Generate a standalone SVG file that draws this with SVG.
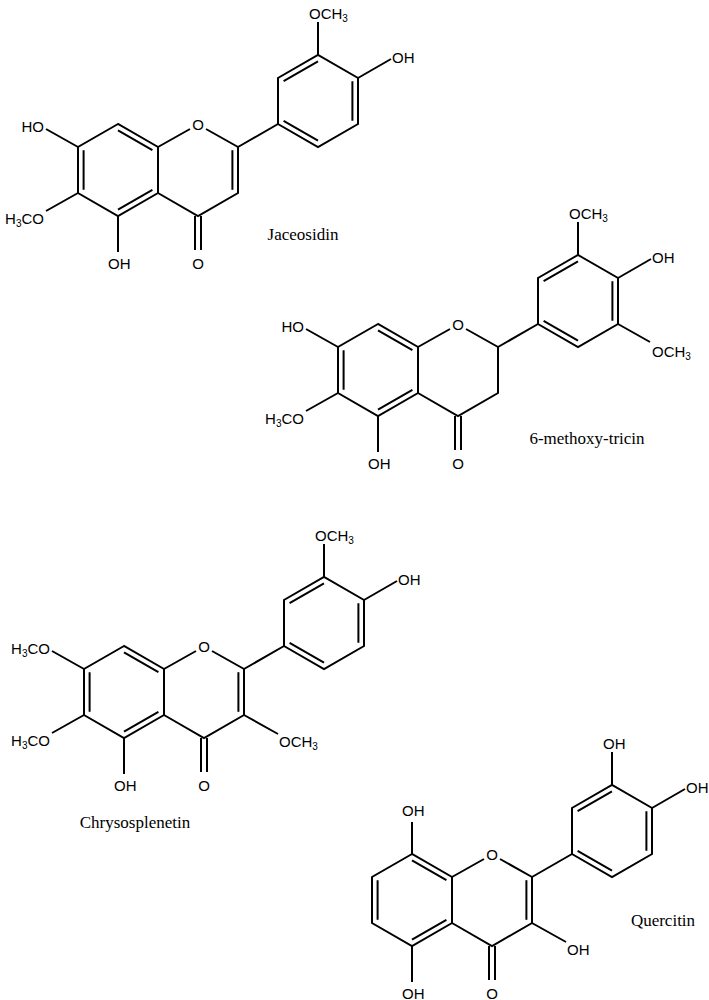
<svg xmlns="http://www.w3.org/2000/svg" xmlns:xlink="http://www.w3.org/1999/xlink" width="709" height="1000" viewBox="0 0 709 1000">
<style>
line,polyline,path{stroke:#000;stroke-width:2;fill:none;stroke-linecap:butt}
.a{font-family:"Liberation Sans",Arial,sans-serif;font-size:15px;fill:#000}
.s{font-size:10px}
.n{font-family:"Liberation Serif","Times New Roman",serif;font-size:17px;fill:#000;text-anchor:middle}
</style>
<defs>
<g id="core">
<path d="M118,124 L78,147 L78,193 L118,216 L158,193 L158,147 Z"/>
<path d="M118,130.4 L152.4,150.2 M83.6,150.2 L83.6,189.8 M118,209.6 L152.4,189.8"/>
<path d="M158,147 L190,129 M206,129 L238,147 L238,193 L198,216 L158,193"/>
<path d="M195,216 L195,250 M201,216 L201,250"/>
<path d="M238,147 L278,124"/>
<path d="M278,124 L278,78 L318,55 L358,78 L358,124 L318,147 Z"/>
<path d="M283.6,81.2 L318,61.4 M352.4,81.2 L352.4,120.8 M318,140.6 L283.6,120.8"/>
<path d="M358,78 L391,59"/>
<text class="a" x="198" y="130" text-anchor="middle">O</text>
<text class="a" x="198" y="269" text-anchor="middle">O</text>
<text class="a" x="392" y="63">OH</text>
</g>
</defs>
<g id="jaceosidin">
<use xlink:href="#core"/>
<path d="M232.4,150.2 L232.4,189.8"/>
<path d="M78,147 L46,129 M78,193 L46,211 M118,216 L118,252 M318,55 L318,22"/>
<text class="a" x="44" y="132" text-anchor="end">HO</text>
<text class="a" x="44" y="224" text-anchor="end">H<tspan class="s" dy="3">3</tspan><tspan dy="-3">CO</tspan></text>
<text class="a" x="108" y="269">OH</text>
<text class="a" x="309" y="19">OCH<tspan class="s" dy="3">3</tspan></text>
<text class="n" x="303" y="240">Jaceosidin</text>
</g>
<g id="methoxytricin" transform="translate(260,200)">
<use xlink:href="#core"/>
<path d="M78,147 L46,129 M78,193 L46,211 M118,216 L118,252 M318,55 L318,22 M358,124 L390,142"/>
<text class="a" x="44" y="132" text-anchor="end">HO</text>
<text class="a" x="44" y="224" text-anchor="end">H<tspan class="s" dy="3">3</tspan><tspan dy="-3">CO</tspan></text>
<text class="a" x="108" y="269">OH</text>
<text class="a" x="309" y="19">OCH<tspan class="s" dy="3">3</tspan></text>
<text class="a" x="392" y="157">OCH<tspan class="s" dy="3">3</tspan></text>
<text class="n" x="327" y="244">6-methoxy-tricin</text>
</g>
<g id="chrysosplenetin" transform="translate(6,522)">
<use xlink:href="#core"/>
<path d="M232.4,150.2 L232.4,189.8"/>
<path d="M78,147 L46,129 M78,193 L46,211 M118,216 L118,252 M318,55 L318,22 M238,193 L272,212"/>
<text class="a" x="44" y="132" text-anchor="end">H<tspan class="s" dy="3">3</tspan><tspan dy="-3">CO</tspan></text>
<text class="a" x="44" y="224" text-anchor="end">H<tspan class="s" dy="3">3</tspan><tspan dy="-3">CO</tspan></text>
<text class="a" x="108" y="269">OH</text>
<text class="a" x="309" y="19">OCH<tspan class="s" dy="3">3</tspan></text>
<text class="a" x="273" y="225">OCH<tspan class="s" dy="3">3</tspan></text>
<text class="n" x="129" y="306">Chrysosplenetin</text>
</g>
<g id="quercitin" transform="translate(294,730)">
<use xlink:href="#core"/>
<path d="M232.4,150.2 L232.4,189.8"/>
<path d="M118,124 L118,92 M118,216 L118,252 M318,55 L318,22 M238,193 L272,212"/>
<text class="a" x="108" y="86">OH</text>
<text class="a" x="108" y="269">OH</text>
<text class="a" x="309" y="19">OH</text>
<text class="a" x="273" y="225">OH</text>
<text class="n" x="369" y="196">Quercitin</text>
</g>
</svg>
